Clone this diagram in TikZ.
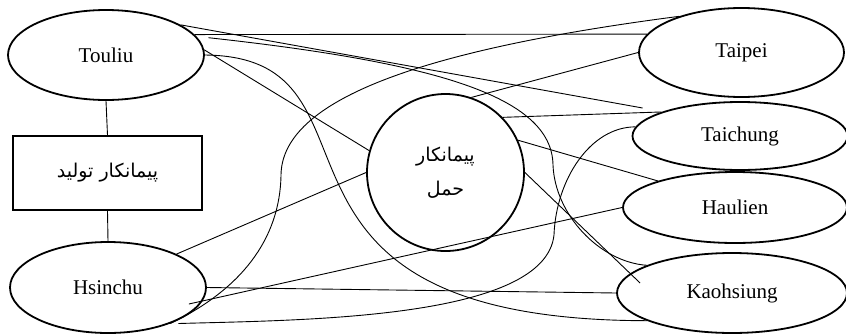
\documentclass[tikz,border=0pt]{standalone}
\usepackage{fontspec}
\setmainfont{Liberation Serif}
\newfontfamily\fafont[Script=Arabic]{DejaVu Sans}
\TeXXeTstate=1
\usetikzlibrary{shapes.geometric}
\begin{document}
\begin{tikzpicture}[x=1pt,y=-1pt,
  city/.style={draw, ellipse, line width=1.8pt, inner sep=0pt, font=\fontsize{21}{25}\selectfont},
  conn/.style={line width=0.9pt}]
\clip (0,0) rectangle (846,335);
% nodes
\node[city, minimum width=196pt, minimum height=90pt] (touliu) at (106,55) {Touliu};
\node[draw, line width=1.8pt, minimum width=189pt, minimum height=74pt, inner sep=0pt,
      font=\fafont\fontsize{19}{22}\selectfont] (prod) at (107.5,173) {\beginR پیمانکار تولید\endR};
\node[city, minimum width=196pt, minimum height=91pt] (hsinchu) at (108,287.5) {Hsinchu};
\node[draw, circle, line width=1.8pt, minimum size=157pt, inner sep=0pt, align=center,
      font=\fafont\fontsize{19}{34}\selectfont] (trans) at (445.5,172.5) {\beginR پیمانکار\endR\\\beginR حمل\endR};
\node[city, minimum width=205pt, minimum height=89pt] (taipei) at (741.5,52.5) {Taipei};
\node[city, minimum width=215pt, minimum height=68pt] (taichung) at (740,136) {Taichung};
\node[city, minimum width=224pt, minimum height=71pt] (haulien) at (735,207.5) {Haulien};
\node[city, minimum width=230pt, minimum height=80pt] (kaohsiung) at (732,293) {Kaohsiung};
% connectors
\draw[conn] (touliu.south) -- (prod.north);
\draw[conn] (prod.south) -- (hsinchu.north);
\draw[conn] (touliu.22) -- ([shift={(11,-28)}]taichung.west);
\draw[conn] (touliu.13) -- (taipei.169);
\draw[conn] ([shift={(10,-1)}]touliu.10) .. controls (430,62) and (552,95) .. (553,165)
   .. controls (555,215) and (600,262) .. (kaohsiung.162);
\draw[conn] (touliu.3) -- (trans.164);
\draw[conn] (touliu.east) .. controls (405,57) and (219,320) .. (kaohsiung.198);
\draw[conn] (taipei.150) .. controls (420,50) and (282,100) .. (281,175)
   .. controls (280,240) and (240,290) .. (hsinchu.330);
\draw[conn] (taichung.175) .. controls (590,127) and (556,180) .. (554,235)
   .. controls (545,320) and (300,320) .. ([shift={(8,0)}]hsinchu.330);
\draw[conn] (hsinchu.26) -- (trans.west);
\draw[conn] ([shift={(-18,16.5)}]hsinchu.east) -- (haulien.west);
\draw[conn] (hsinchu.east) -- (kaohsiung.west);
\draw[conn] (trans.71) -- (taipei.west);
\draw[conn] (trans.44) -- (taichung.163);
\draw[conn] (trans.24) -- (haulien.161);
\draw[conn] (trans.east) -- ([shift={(24,-10)}]kaohsiung.west);
\end{tikzpicture}
\end{document}
